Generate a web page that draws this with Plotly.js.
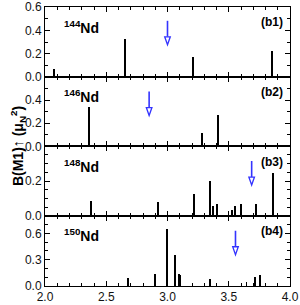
<!DOCTYPE html>
<html>
<head>
<meta charset="utf-8">
<script src="https://cdn.plot.ly/plotly-3.0.1.min.js"></script>
<style>html,body{margin:0;padding:0;background:#fff}#plot{width:300px;height:305px}</style>
</head>
<body>
<div id="plot"></div>
<script>
// ---- data ----
const isotopes = ["144", "146", "148", "150"];
const panelTags = ["(b1)", "(b2)", "(b3)", "(b4)"];

const e144 = [2.07, 2.653, 3.212, 3.855];
const b144 = [0.065, 0.327, 0.175, 0.222];

const e146 = [2.356, 3.278, 3.414];
const b146 = [0.34, 0.117, 0.271];

const e148 = [2.372, 2.926, 3.215, 3.343, 3.372, 3.407, 3.528, 3.548, 3.598, 3.719, 3.865];
const b148 = [0.086, 0.077, 0.128, 0.199, 0.057, 0.068, 0.036, 0.057, 0.068, 0.068, 0.249];

const e150 = [2.68, 2.896, 2.994, 3.059, 3.095, 3.104, 3.343, 3.645, 3.714, 3.752];
const b150 = [0.094, 0.134, 0.655, 0.356, 0.135, 0.13, 0.084, 0.05, 0.104, 0.126];

// arrows (energy, tip value)
const arrowX = [3.0, 2.85, 3.687, 3.555];
const arrowTip = [0.276, 0.266, 0.177, 0.356];

const yRanges = [[0, 0.6], [0, 0.6], [0, 0.4], [0, 0.8]];
const yTickVals = [[0, 0.2, 0.4, 0.6], [0, 0.2, 0.4], [0, 0.2], [0, 0.3, 0.6]];
const yMinor = [0.1, 0.1, 0.05, 0.1];
const xTickVals = [2.0, 2.5, 3.0, 3.5, 4.0];

// ---- layout ----
const energies = [e144, e146, e148, e150];
const strengths = [b144, b146, b148, b150];
const domains = [[0.7491, 1], [0.5007, 0.7491], [0.2516, 0.5007], [0, 0.2516]];
const FONT = "Liberation Sans, Arial, Helvetica, sans-serif";

const traces = [];
const layout = {
  width: 300, height: 305,
  margin: {l: 45, r: 10, t: 7, b: 19},
  paper_bgcolor: "#fff", plot_bgcolor: "#fff",
  showlegend: false,
  bargap: 0,
  font: {family: FONT, size: 12, color: "#111"},
  annotations: [],
  shapes: []
};

for (let i = 0; i < 4; i++) {
  const n = i + 1;
  const xk = n === 1 ? "x" : "x" + n;
  const yk = n === 1 ? "y" : "y" + n;
  traces.push({
    type: "bar", x: energies[i], y: strengths[i],
    xaxis: xk, yaxis: yk, width: 0.016,
    marker: {color: "#000", line: {width: 0}},
    hoverinfo: "x+y"
  });
  const xa = {
    range: [2, 4], anchor: yk,
    showline: true, linecolor: "#000", linewidth: 1, mirror: "ticks",
    ticks: "inside", ticklen: 5, tickcolor: "#000", tickwidth: 1,
    tickmode: "array", tickvals: xTickVals, ticktext: xTickVals.map(v => v.toFixed(1)),
    showticklabels: n === 4, ticklabeloverflow: "allow",
    minor: {dtick: 0.1, tick0: 2, ticks: "inside", ticklen: 3, tickcolor: "#000", showgrid: false},
    showgrid: false, zeroline: false,
    tickfont: {family: FONT, size: 12, color: "#111"}
  };
  if (n > 1) xa.matches = "x";
  const ya = {
    domain: domains[i], range: yRanges[i], anchor: xk,
    showline: true, linecolor: "#000", linewidth: 1, mirror: "ticks",
    ticks: "inside", ticklen: 5, tickcolor: "#000", tickwidth: 1,
    tickmode: "array", tickvals: yTickVals[i], ticktext: yTickVals[i].map(v => v.toFixed(1)),
    ticklabeloverflow: "allow",
    minor: {dtick: yMinor[i], tick0: 0, ticks: "inside", ticklen: 3, tickcolor: "#000", showgrid: false},
    showgrid: false, zeroline: false,
    tickfont: {family: FONT, size: 12, color: "#111"}
  };
  layout[n === 1 ? "xaxis" : "xaxis" + n] = xa;
  layout[n === 1 ? "yaxis" : "yaxis" + n] = ya;

  layout.annotations.push({
    xref: xk, yref: yk + " domain", x: 2.14, y: 0.72,
    xanchor: "left", yanchor: "middle", showarrow: false,
    text: "<b><sup>" + isotopes[i] + "</sup>Nd</b>",
    font: {family: FONT, size: 14, color: "#000"}
  });
  layout.annotations.push({
    xref: xk + " domain", yref: yk + " domain", x: 0.98, y: 0.78,
    xanchor: "right", yanchor: "middle", showarrow: false,
    text: "<b>" + panelTags[i] + "</b>",
    font: {family: FONT, size: 12, color: "#000"}
  });
  // arrow: shaft + open head, pixel-sized, anchored at tip
  layout.shapes.push({
    type: "path", xref: xk, yref: yk,
    xsizemode: "pixel", ysizemode: "pixel",
    xanchor: arrowX[i], yanchor: arrowTip[i],
    path: "M0,24 L0,8",
    line: {color: "#3434ff", width: 1.6}
  });
  layout.shapes.push({
    type: "path", xref: xk, yref: yk,
    xsizemode: "pixel", ysizemode: "pixel",
    xanchor: arrowX[i], yanchor: arrowTip[i],
    path: "M-2.8,8 L2.8,8 L0,0 Z",
    fillcolor: "#fff",
    line: {color: "#3434ff", width: 1.3}
  });
}

layout.annotations.push({
  xref: "paper", yref: "paper", x: -0.112, y: 0.50,
  xanchor: "center", yanchor: "middle", showarrow: false, textangle: -90,
  text: "<b>B(M1)↑ (μ<sub>N</sub><sup>2</sup>)</b>",
  font: {family: FONT, size: 14, color: "#000"}
});

Plotly.newPlot("plot", traces, layout, {displayModeBar: false, staticPlot: true});
</script>
</body>
</html>
